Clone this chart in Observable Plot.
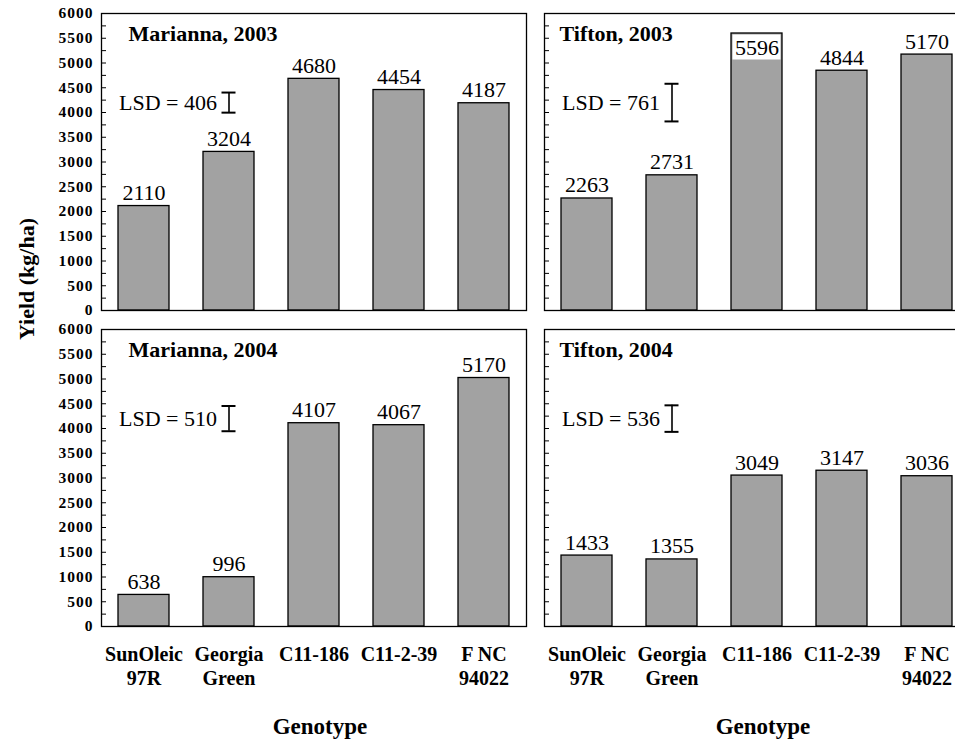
<!DOCTYPE html>
<html><head><meta charset="utf-8">
<script src="https://cdn.jsdelivr.net/npm/d3@7"></script>
<script src="https://cdn.jsdelivr.net/npm/@observablehq/plot@0.6"></script>
<style>
html,body{margin:0;padding:0;background:#fff;overflow:hidden;}
#chart{width:955px;height:739px;overflow:hidden;position:relative;}
#chart svg{max-width:none !important;font-family:'Liberation Serif','Times New Roman',Times,serif !important;}
#chart svg text{font-family:'Liberation Serif','Times New Roman',Times,serif !important;}
#chart g[aria-label="y-axis tick label"] text{letter-spacing:1px;}
</style></head><body><div id="chart"></div>
<script>
// ---- data ----
const sites = ["Marianna", "Tifton"];
const years = ["2003", "2004"];
const genotypes = ["SunOleic\n97R", "Georgia\nGreen", "C11-186", "C11-2-39", "F NC\n94022"];

const marianna2003 = [2110, 3204, 4680, 4454, 4187];
const tifton2003   = [2263, 2731, 5596, 4844, 5170];
const marianna2004 = [638, 996, 4107, 4067, 5020];   // last bar drawn near 5020 in the figure
const tifton2004   = [1433, 1355, 3049, 3147, 3036];

const marianna2003Labels = ["2110", "3204", "4680", "4454", "4187"];
const tifton2003Labels   = ["2263", "2731", "5596", "4844", "5170"];
const marianna2004Labels = ["638", "996", "4107", "4067", "5170"];
const tifton2004Labels   = ["1433", "1355", "3049", "3147", "3036"];

const lsdMarianna = [406, 510];  // 2003, 2004
const lsdTifton   = [761, 536];  // 2003, 2004

const yTickLabels = [0, 500, 1000, 1500, 2000, 2500, 3000, 3500, 4000, 4500, 5000, 5500, 6000];
const yMinorTicks = [0, 250, 500, 750, 1000, 1250, 1500, 1750, 2000, 2250, 2500, 2750, 3000,
  3250, 3500, 3750, 4000, 4250, 4500, 4750, 5000, 5250, 5500, 5750, 6000];

const xTitle = "Genotype";
const yTitle = "Yield (kg/ha)";

// ---- tables built from the arrays ----
const panelSeries = [
  {site: "Marianna", year: "2003", values: marianna2003, labels: marianna2003Labels},
  {site: "Tifton", year: "2003", values: tifton2003, labels: tifton2003Labels},
  {site: "Marianna", year: "2004", values: marianna2004, labels: marianna2004Labels},
  {site: "Tifton", year: "2004", values: tifton2004, labels: tifton2004Labels}
];
const bars = panelSeries.flatMap(p => p.values.map((v, i) => ({
  site: p.site, year: p.year, genotype: genotypes[i], value: v, label: p.labels[i]
})));
const lsdRows = [
  ...years.map((y, i) => ({site: "Marianna", year: y, lsd: lsdMarianna[i]})),
  ...years.map((y, i) => ({site: "Tifton", year: y, lsd: lsdTifton[i]}))
];
const titleRows = sites.flatMap(s => years.map(y => ({site: s, year: y, title: `${s}, ${y}`})));
const xTitleRows = sites.map(s => ({site: s, year: years[1]}));

const LSD_CENTER = 4200;
const OVER = 5400; // labels of taller bars are drawn inside the bar
const fxy = {fx: "site", fy: "year"};
const T = {fill: "#000"};

const chart = Plot.plot({
  width: 958,
  height: 739,
  marginLeft: 100,
  marginRight: -11,
  marginTop: 13,
  marginBottom: 112,
  style: {color: "#000", background: "#fff", overflow: "visible"},
  fx: {domain: sites, paddingInner: 18 / 443, paddingOuter: 0, axis: null},
  fy: {domain: years, paddingInner: 19 / 316.5, paddingOuter: 0, axis: null},
  x: {domain: genotypes, paddingInner: 0.4, paddingOuter: 0.2},
  y: {domain: [0, 6000]},
  marks: [
    Plot.barY(bars, {...fxy, x: "genotype", y: "value", fill: "#a2a2a2", stroke: "#000", strokeWidth: 1.3}),
    Plot.tickY(bars.filter(d => d.value > OVER), {...fxy, x: "genotype", y: "value",
      stroke: "#fff", strokeWidth: 25, dy: 13.5, insetLeft: 1.5, insetRight: 1.5}),
    Plot.text(bars.filter(d => d.value <= OVER), {...fxy, ...T, x: "genotype", y: "value", text: "label",
      lineAnchor: "bottom", dy: -6, fontSize: 22}),
    Plot.text(bars.filter(d => d.value > OVER), {...fxy, ...T, x: "genotype", y: "value", text: "label",
      lineAnchor: "top", dy: 6, fontSize: 22}),
    // LSD bars
    Plot.ruleX(lsdRows, {...fxy, x: () => genotypes[1], y1: d => LSD_CENTER - d.lsd / 2, y2: d => LSD_CENTER + d.lsd / 2,
      stroke: "#000", strokeWidth: 1.6}),
    Plot.tickY(lsdRows, {...fxy, x: () => genotypes[1], y: d => LSD_CENTER - d.lsd / 2,
      stroke: "#000", strokeWidth: 2, insetLeft: 18.5, insetRight: 18.5}),
    Plot.tickY(lsdRows, {...fxy, x: () => genotypes[1], y: d => LSD_CENTER + d.lsd / 2,
      stroke: "#000", strokeWidth: 2, insetLeft: 18.5, insetRight: 18.5}),
    Plot.text(lsdRows, {...fxy, ...T, x: () => genotypes[1], y: () => LSD_CENTER, text: d => `LSD = ${d.lsd}`,
      textAnchor: "end", lineAnchor: "middle", dx: -12, fontSize: 22}),
    // panel titles
    Plot.text(titleRows.filter(d => d.site === "Marianna"), {...fxy, ...T, text: "title", frameAnchor: "top-left",
      textAnchor: "start", lineAnchor: "middle", dx: 27, dy: 20, fontSize: 22, fontWeight: "bold"}),
    Plot.text(titleRows.filter(d => d.site === "Tifton"), {...fxy, ...T, text: "title", frameAnchor: "top-left",
      textAnchor: "start", lineAnchor: "middle", dx: 15, dy: 20, fontSize: 22, fontWeight: "bold"}),
    // x titles
    Plot.text(xTitleRows, {...fxy, ...T, text: () => xTitle, frameAnchor: "bottom", lineAnchor: "middle",
      dx: 6, dy: 100, fontSize: 23, fontWeight: "bold"}),
    // y title
    Plot.text([yTitle], {...T, text: d => d, frameAnchor: "left", rotate: -90, dx: -75, dy: 20, facet: "super",
      fontSize: 22, fontWeight: "bold"}),
    // axes
    Plot.axisY({ticks: yTickLabels, tickFormat: d => String(d), tickSize: 0, tickPadding: 8,
      fontSize: 15.5, fontWeight: "bold", fill: "#000", label: null}),
    Plot.tickY(yMinorTicks, {y: d => d, frameAnchor: "left", stroke: "#000", strokeWidth: 1, insetRight: 420}),
    Plot.axisX({anchor: "bottom", tickSize: 0, tickPadding: 17, fontSize: 20, fontWeight: "bold",
      fill: "#000", lineHeight: 1.2, label: null}),
    Plot.frame({stroke: "#000", strokeWidth: 1.3})
  ]
});
document.getElementById("chart").appendChild(chart);
</script>
</body></html>
